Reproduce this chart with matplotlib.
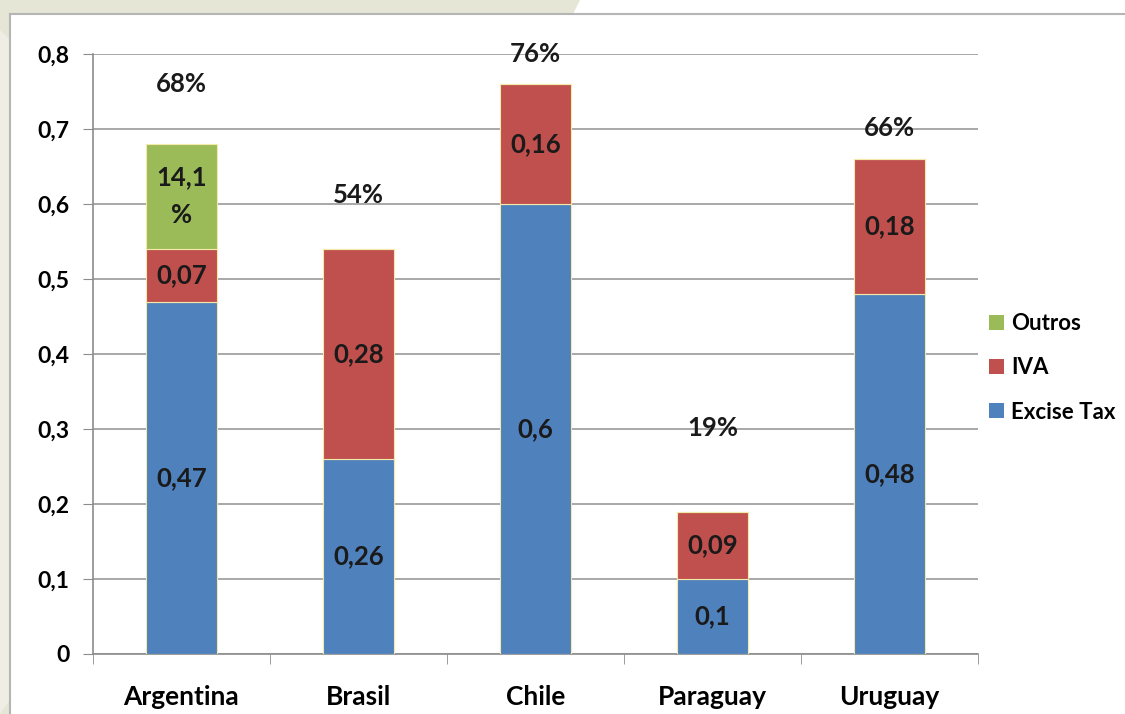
import numpy as np
import matplotlib
matplotlib.use("Agg")
from matplotlib import pyplot as plt
from matplotlib.patches import Polygon

countries = ["Argentina", "Brasil", "Chile", "Paraguay", "Uruguay"]
excise = [0.47, 0.26, 0.6, 0.1, 0.48]
iva = [0.07, 0.28, 0.16, 0.09, 0.18]
outros = [0.14, 0, 0, 0, 0]
excise_labels = ["0,47", "0,26", "0,6", "0,1", "0,48"]
iva_labels = ["0,07", "0,28", "0,16", "0,09", "0,18"]
outros_labels = ["14,1\n%", "", "", "", ""]
total_labels = ["68%", "54%", "76%", "19%", "66%"]
# where the total labels sit (layout, not data)
total_label_y = [0.76, 0.612, 0.8, 0.302, 0.702]

yticks = [0, 0.1, 0.2, 0.3, 0.4, 0.5, 0.6, 0.7, 0.8]
ytick_labels = ["0", "0,1", "0,2", "0,3", "0,4", "0,5", "0,6", "0,7", "0,8"]

blue = "#4F81BD"
red = "#C0504D"
green = "#9BBB59"

plt.rcParams["font.family"] = ["Lato", "DejaVu Sans"]

fig = plt.figure(figsize=(11.25, 7.14), dpi=100)
fig.patch.set_facecolor("white")

# slide background: beige band top-left and left strip
W, H = 1125, 714
def fx(px):
    return px / W
def fy(py):
    return 1 - py / H
beige = "#E5E6D5"
fig.patches.append(Polygon([(fx(0), fy(0)), (fx(580), fy(0)), (fx(573), fy(14)),
                            (fx(10), fy(14)), (fx(10), fy(714)), (fx(0), fy(714))],
                           closed=True, transform=fig.transFigure, facecolor=beige,
                           edgecolor="none", zorder=0))
fig.patches.append(Polygon([(fx(0), fy(30)), (fx(10), fy(40)), (fx(10), fy(700)), (fx(0), fy(714))],
                           closed=True, transform=fig.transFigure, facecolor="#EEEEE4",
                           edgecolor="none", zorder=0))
# white panel border
fig.add_artist(plt.Line2D([fx(10), fx(1125)], [fy(14), fy(14)], transform=fig.transFigure,
                          color="#B5B5B5", lw=1.5))
fig.add_artist(plt.Line2D([fx(10), fx(10)], [fy(14), fy(714)], transform=fig.transFigure,
                          color="#B5B5B5", lw=1.5))

ax = fig.add_axes([93 / W, 1 - 654 / H, (978 - 93) / W, 600 / H])
ax.set_facecolor("white")

x = np.arange(len(countries))
width = 0.4
edge = "#F3E9A8"
b1 = ax.bar(x, excise, width, color=blue, edgecolor=edge, linewidth=0.8, label="Excise Tax", zorder=3)
b2 = ax.bar(x, iva, width, bottom=excise, color=red, edgecolor=edge, linewidth=0.8, label="IVA", zorder=3)
bottom2 = np.array(excise) + np.array(iva)
b3 = ax.bar(x, outros, width, bottom=bottom2, color=green, edgecolor=edge, linewidth=0.8, label="Outros", zorder=3)

lab_kw = dict(ha="center", va="center", fontsize=18.5, fontweight="bold", color="#1A1A1A", zorder=4)
for i in range(len(countries)):
    ax.text(x[i], excise[i] / 2, excise_labels[i], **lab_kw)
    ax.text(x[i], excise[i] + iva[i] / 2, iva_labels[i], **lab_kw)
    if outros[i] > 0:
        ax.text(x[i], bottom2[i] + outros[i] / 2, outros_labels[i], linespacing=1.7, **lab_kw)
    ax.text(x[i], total_label_y[i], total_labels[i], **lab_kw)

ax.set_ylim(0, 0.8)
ax.set_xlim(-0.5, 4.5)
ax.set_yticks(yticks)
ax.set_yticklabels(ytick_labels, fontsize=16.5, fontweight="bold")
ax.set_xticks(x)
ax.set_xticklabels(countries, fontsize=19, fontweight="bold")
ax.set_xticks(np.arange(-0.5, 5, 1), minor=True)
ax.tick_params(axis="x", which="major", length=0, pad=22)
ax.tick_params(axis="x", which="minor", length=7, color="#8C8C8C", direction="out")
ax.tick_params(axis="y", length=7, color="#8C8C8C", pad=10)

ax.yaxis.grid(True, color="#9A9A9A", lw=1.2, zorder=1)
ax.set_axisbelow(True)
for s in ["top", "right"]:
    ax.spines[s].set_visible(False)
for s in ["left", "bottom"]:
    ax.spines[s].set_color("#8C8C8C")
    ax.spines[s].set_linewidth(1.2)

leg = ax.legend(handles=[b3, b2, b1], loc="center left", bbox_to_anchor=(0.99, 0.477),
                frameon=False, fontsize=16, handlelength=0.65, handleheight=0.65,
                handletextpad=0.35, labelspacing=1.05)
for t in leg.get_texts():
    t.set_fontweight("bold")
for h in leg.legend_handles:
    h.set_edgecolor("none")

fig.savefig("out.png", dpi=100)
